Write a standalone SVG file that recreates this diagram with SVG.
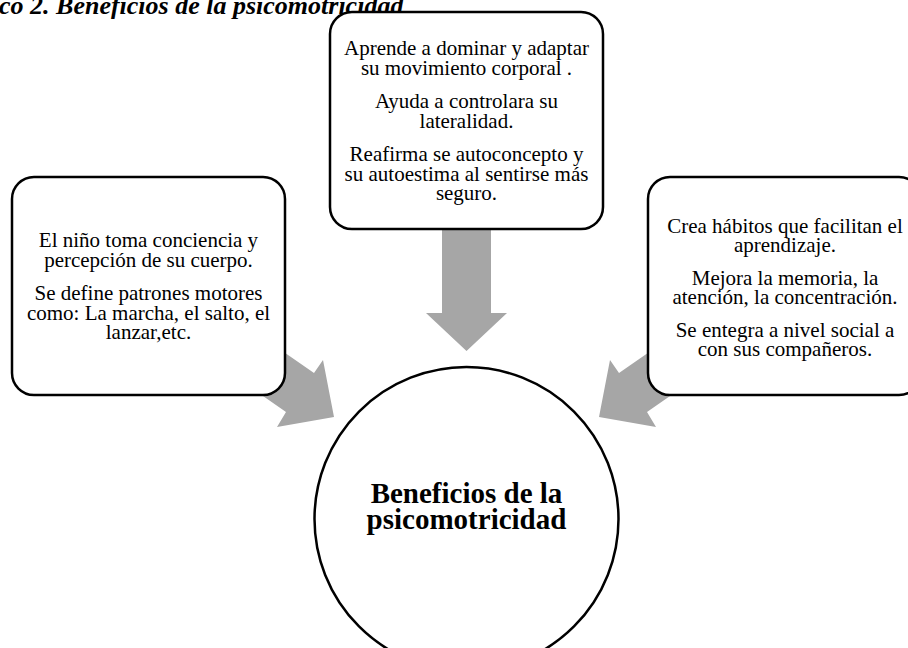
<svg xmlns="http://www.w3.org/2000/svg" width="908" height="648" viewBox="0 0 908 648">
<style>
.box{fill:#fff;stroke:#000;stroke-width:2.5}
.arr{fill:#a6a6a6;stroke:none}
.t{font-family:"Liberation Serif","Times New Roman",serif;font-size:21px;fill:#000;text-anchor:middle}
.c{font-family:"Liberation Serif","Times New Roman",serif;font-size:29px;font-weight:bold;fill:#000;text-anchor:middle}
.title{font-family:"Liberation Serif","Times New Roman",serif;font-size:26px;font-weight:bold;font-style:italic;fill:#000}
</style>
<rect width="908" height="648" fill="#fff"/>
<text class="title" x="-1" y="14">co 2. Beneficios de la psicomotricidad</text>
<g id="connectors">
<polygon class="arr" points="442,220 491,220 491,313 507,313 466.5,351 426,313 442,313"/>
<polygon class="arr" points="265,339 314,373 323,360 334,417 277,427 286,412 237,378"/>
<polygon class="arr" points="668,339 619,373 610,360 599,417 656,427 647,412 696,378"/>
</g>
<g id="node-left">
<rect class="box" x="12" y="177" width="273" height="218" rx="22"/>
<text class="t" x="148.5" y="247">El niño toma conciencia y</text>
<text class="t" x="148.5" y="266.5">percepción de su cuerpo.</text>
<text class="t" x="148.5" y="300">Se define patrones motores</text>
<text class="t" x="148.5" y="319.5">como: La marcha, el salto, el</text>
<text class="t" x="148.5" y="339">lanzar,etc.</text>
</g>
<g id="node-top">
<rect class="box" x="330" y="12" width="273" height="217" rx="22"/>
<text class="t" x="466.5" y="55">Aprende a dominar y adaptar</text>
<text class="t" x="466.5" y="74.5">su movimiento corporal .</text>
<text class="t" x="466.5" y="108">Ayuda a controlara su</text>
<text class="t" x="466.5" y="127.5">lateralidad.</text>
<text class="t" x="466.5" y="161">Reafirma se autoconcepto y</text>
<text class="t" x="466.5" y="180.5">su autoestima al sentirse más</text>
<text class="t" x="466.5" y="200">seguro.</text>
</g>
<g id="node-right">
<rect class="box" x="648" y="177" width="273" height="218" rx="22"/>
<text class="t" x="785" y="233">Crea hábitos que facilitan el</text>
<text class="t" x="785" y="252">aprendizaje.</text>
<text class="t" x="785" y="285">Mejora la memoria, la</text>
<text class="t" x="785" y="304">atención, la concentración.</text>
<text class="t" x="785" y="337">Se entegra a nivel social a</text>
<text class="t" x="785" y="356">con sus compañeros.</text>
</g>
<g id="node-center">
<circle class="box" cx="466.5" cy="519" r="152"/>
<text class="c" x="466.5" y="503">Beneficios de la</text>
<text class="c" x="466.5" y="529">psicomotricidad</text>
</g>
</svg>
